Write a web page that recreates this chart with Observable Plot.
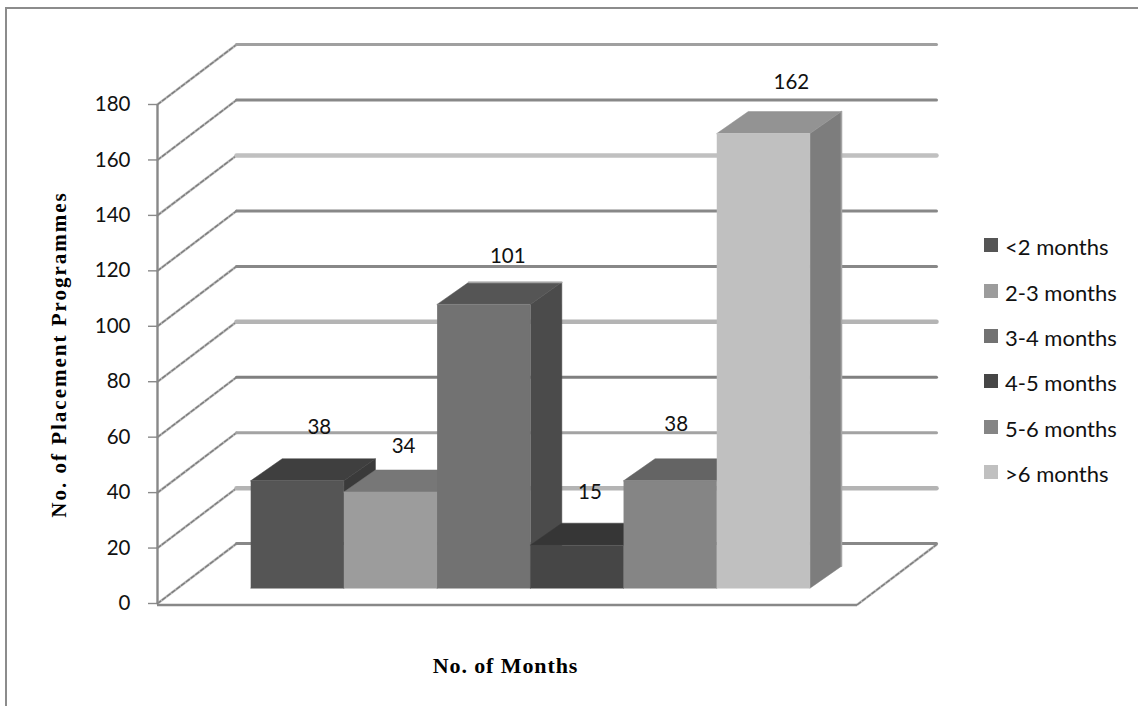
<!DOCTYPE html>
<html>
<head>
<meta charset="utf-8">
<script src="https://cdn.jsdelivr.net/npm/d3@7"></script>
<script src="https://cdn.jsdelivr.net/npm/@observablehq/plot@0.6"></script>
<style>
html,body{margin:0;padding:0;background:#fff;width:1138px;height:706px;overflow:hidden}
#chart{position:absolute;left:0;top:0}
#border{position:absolute;left:5px;top:7px;right:-2px;bottom:-2px;border-left:2px solid #8c8c8c;border-top:2px solid #8c8c8c}
#legend{position:absolute;left:984px;top:224px;font:22px Lato,sans-serif;color:#111}
#legend div{height:45.4px;display:flex;align-items:center}
#legend i{display:block;width:14px;height:14px;margin-right:7px;margin-top:-3px}
.spaced{letter-spacing:2px}
.spaced2{letter-spacing:0.9px}
</style>
</head>
<body>
<div id="border"></div>
<div id="chart"></div>
<div id="legend"></div>
<script>
const categories = ["<2 months","2-3 months","3-4 months","4-5 months","5-6 months",">6 months"];
const values = [38,34,101,15,38,162];
const frontColors = ["#555555","#9c9c9c","#727272","#464646","#858585","#c0c0c0"];
const topColors   = ["#3f3f3f","#777777","#555555","#363636","#646464","#939393"];
const sideColors  = ["#3a3a3a","#6f6f6f","#4b4b4b","#2f2f2f","#5d5d5d","#7d7d7d"];
const tickValues = [0,20,40,60,80,100,120,140,160,180];
const gridColors = ["#888888","#b4b4b4","#a3a3a3","#808080","#b4b4b4","#888888","#888888","#c0c0c0","#888888","#a0a0a0"];
const gridWidths = [3,4.5,3,3,4.5,3,3,4.5,3,3];
const labelNudgeX = [22,13,24,13,6,28];
const labelNudgeY = [-53,-46,-48,-53,-56,-51];

// oblique projection of the 3-D chart, in data units
const xMax = 7.51;
const wallX = 0.8476, wallY = 21.6;      // front plane -> back wall
const barX = 0.338, barY = 7.94;         // front face -> back face of a bar
const firstBar = 1.0, barBase = 5.52, barLift = 0.36, barScale = 1.0101;
const barTop = v => barBase+barLift+v*barScale;

const faces = [];
values.forEach((v,i)=>{
  const x0 = firstBar+i, x1 = x0+1, y0 = barBase, y1 = barTop(v);
  const poly = (part,color,pts)=>pts.forEach(([x,y])=>faces.push({id:part+i,color,x,y}));
  poly("side",sideColors[i],[[x1,y0],[x1+barX,y0+barY],[x1+barX,y1+barY],[x1,y1]]);
  poly("top",topColors[i],[[x0,y1],[x0+barX,y1+barY],[x1+barX,y1+barY],[x1,y1]]);
  poly("front",frontColors[i],[[x0,y0],[x1,y0],[x1,y1],[x0,y1]]);
});
const topOf = i => barTop(values[i])+barY;
const edgeLines = [
  {id:"a",x:firstBar+2+barX,y:topOf(2)},{id:"a",x:firstBar+3+barX,y:topOf(2)},
  {id:"b",x:firstBar+6+barX,y:barBase+barY},{id:"b",x:firstBar+6+barX,y:topOf(5)}
];

const backLines = tickValues.flatMap((t,i)=>[
  {t,color:gridColors[i],w:gridWidths[i],x:wallX,y:t+wallY},
  {t,color:gridColors[i],w:gridWidths[i],x:xMax+wallX,y:t+wallY}
]);
const wallLines = tickValues.flatMap(t=>[{t,x:0,y:t},{t,x:wallX,y:t+wallY}]);
const floorSide = [{x:xMax,y:0},{x:xMax+wallX,y:wallY}];
const labels = values.map((v,i)=>({v,i,x:firstBar+i+0.5,y:barTop(v)}));

const fontMain = "Lato, sans-serif";
const fontTitle = "'Liberation Serif', serif";

const plot = Plot.plot({
  width:1138,height:706,
  marginLeft:157,marginRight:281,marginTop:104,marginBottom:103,
  style:{background:"transparent",overflow:"visible"},
  x:{domain:[0,xMax],axis:null},
  y:{domain:[0,180]},
  marks:[
    // side-wall lines
    Plot.line(wallLines,{x:"x",y:"y",z:"t",stroke:"#c2c2c2",strokeWidth:2.6}),
    Plot.line(wallLines,{x:"x",y:"y",z:"t",stroke:"#7c7c7c",strokeWidth:1.4,strokeDasharray:"4,2"}),
    Plot.line(floorSide,{x:"x",y:"y",stroke:"#c2c2c2",strokeWidth:2.6,dy:1}),
    Plot.line(floorSide,{x:"x",y:"y",stroke:"#7c7c7c",strokeWidth:1.4,strokeDasharray:"4,2",dy:1}),
    // back wall grid
    Plot.line(backLines,{x:"x",y:"y",z:"t",stroke:"color",strokeWidth:"w"}),
    // floor front edge and value axis line
    Plot.ruleY([0],{x1:0,x2:xMax,stroke:"#888888",strokeWidth:2.4,dy:1.5}),
    Plot.ruleX([0],{y1:0,y2:180,stroke:"#888888",strokeWidth:2.4}),
    Plot.axisY({ticks:tickValues,tickSize:9,tickPadding:18,stroke:"#8a8a8a",strokeWidth:1.4,fill:"#111",fontSize:20.5,fontFamily:fontMain,label:null,marginLeft:157}),
    // bars, back to front
    Plot.line(faces,{x:"x",y:"y",z:"id",fill:"color",stroke:"color",strokeWidth:0.5}),
    Plot.line(edgeLines,{x:"x",y:"y",z:"id",stroke:"#a4a4a4",strokeWidth:1.6}),
    // value labels
    ...labels.map(d=>Plot.text([d],{x:"x",y:"y",text:"v",dx:labelNudgeX[d.i],dy:labelNudgeY[d.i],fontSize:20.5,fontFamily:fontMain,fill:"#111"})),
    // axis titles
    Plot.text(["No. of Placement Programmes"],{frameAnchor:"top-left",textAnchor:"middle",lineAnchor:"middle",dx:-98,dy:250,rotate:-90,fontFamily:fontTitle,fontWeight:"bold",fontSize:21,fill:"#000",className:"spaced"}),
    Plot.text(["No. of Months"],{frameAnchor:"top-left",textAnchor:"middle",lineAnchor:"middle",dx:348,dy:561,fontFamily:fontTitle,fontWeight:"bold",fontSize:22,fill:"#000",className:"spaced2"})
  ]
});
document.getElementById("chart").append(plot);

const legend = document.getElementById("legend");
categories.forEach((c,i)=>{
  const row = document.createElement("div");
  const sw = document.createElement("i");
  sw.style.background = frontColors[i];
  const t = document.createElement("span");
  t.textContent = c;
  row.append(sw,t);
  legend.append(row);
});
</script>
</body>
</html>
